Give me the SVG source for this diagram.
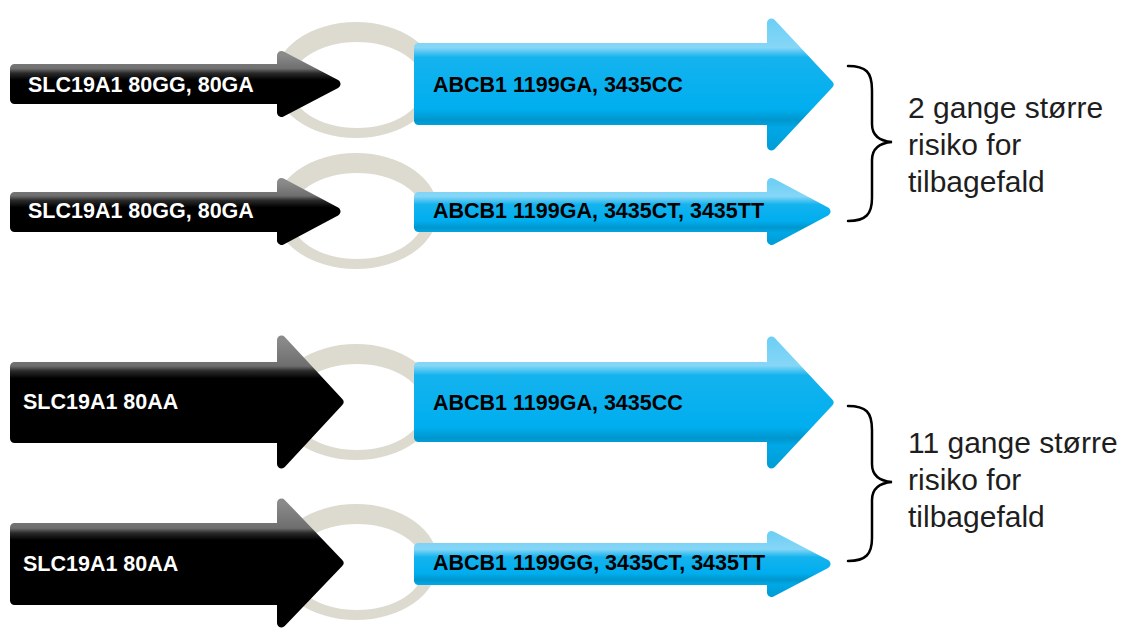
<svg xmlns="http://www.w3.org/2000/svg" width="1127" height="632" viewBox="0 0 1127 632">
  <defs>
    <linearGradient id="blackS" x1="0" y1="0" x2="0" y2="1">
      <stop offset="0" stop-color="#8a8a8a"/>
      <stop offset="0.23" stop-color="#6e6e6e"/>
      <stop offset="0.31" stop-color="#2a2a2a"/>
      <stop offset="0.43" stop-color="#000"/>
      <stop offset="1" stop-color="#000"/>
    </linearGradient>
    <linearGradient id="blackL" x1="0" y1="0" x2="0" y2="1">
      <stop offset="0" stop-color="#8a8a8a"/>
      <stop offset="0.21" stop-color="#6e6e6e"/>
      <stop offset="0.25" stop-color="#2a2a2a"/>
      <stop offset="0.31" stop-color="#000"/>
      <stop offset="1" stop-color="#000"/>
    </linearGradient>
    <linearGradient id="blueL" x1="0" y1="0" x2="0" y2="1">
      <stop offset="0" stop-color="#6fd0f5"/>
      <stop offset="0.2" stop-color="#86d6f6"/>
      <stop offset="0.28" stop-color="#14b3ee"/>
      <stop offset="0.7" stop-color="#00aeef"/>
      <stop offset="0.79" stop-color="#0096cd"/>
      <stop offset="0.85" stop-color="#00a8e6"/>
      <stop offset="1" stop-color="#009fd9"/>
    </linearGradient>
    <linearGradient id="blueS" x1="0" y1="0" x2="0" y2="1">
      <stop offset="0" stop-color="#6fd0f5"/>
      <stop offset="0.24" stop-color="#86d6f6"/>
      <stop offset="0.38" stop-color="#14b3ee"/>
      <stop offset="0.66" stop-color="#00aeef"/>
      <stop offset="0.78" stop-color="#0096cd"/>
      <stop offset="0.86" stop-color="#00a8e6"/>
      <stop offset="1" stop-color="#009fd9"/>
    </linearGradient>
  </defs>
  <style>
    .ring { fill: #dddbcf; fill-rule: evenodd; }
    .arrow { stroke-width: 9; stroke-linejoin: round; }
    .bs { fill: url(#blackS); stroke: url(#blackS); }
    .bl { fill: url(#blackL); stroke: url(#blackL); }
    .ls { fill: url(#blueS); stroke: url(#blueS); }
    .ll { fill: url(#blueL); stroke: url(#blueL); }
    .wt { font-family: "Liberation Sans", Arial, sans-serif; font-weight: bold; font-size: 21.5px; fill: #ffffff; }
    .kt { font-family: "Liberation Sans", Arial, sans-serif; font-weight: bold; font-size: 21.5px; fill: #000000; }
    .note { font-family: "Liberation Sans", Arial, sans-serif; font-size: 30px; fill: #1e1e1e; }
    .brace { fill: none; stroke: #000; stroke-width: 2.5; stroke-linecap: round; }
  </style>

  <g id="connectors">
    <path class="ring" d="M274,80 A82,58 0 1,0 438,80 A82,58 0 1,0 274,80 Z M290,85 A67,43 0 1,0 424,85 A67,43 0 1,0 290,85 Z"/>
    <path class="ring" d="M274,211 A82,58 0 1,0 438,211 A82,58 0 1,0 274,211 Z M290,216 A67,43 0 1,0 424,216 A67,43 0 1,0 290,216 Z"/>
    <path class="ring" d="M274,402 A82,58 0 1,0 438,402 A82,58 0 1,0 274,402 Z M290,407 A67,43 0 1,0 424,407 A67,43 0 1,0 290,407 Z"/>
    <path class="ring" d="M274,562 A82,58 0 1,0 438,562 A82,58 0 1,0 274,562 Z M290,567 A67,43 0 1,0 424,567 A67,43 0 1,0 290,567 Z"/>
    <path class="brace" d="M848,66 C866,66 872,72 872,90 L872,124 C872,136 880,141 892,142 C880,143 872,148 872,160 L872,198 C872,214 866,221 848,221"/>
    <path class="brace" d="M848,406 C866,406 872,412 872,430 L872,464 C872,476 880,481 892,482 C880,483 872,488 872,500 L872,538 C872,554 866,561 848,561"/>
  </g>

  <g id="slc1">
    <path class="arrow bs" d="M14.5,68.5 L281.5,68.5 L281.5,55.5 L336,84 L281.5,112.5 L281.5,99.5 L14.5,99.5 Z"/>
    <text class="wt" x="28" y="92">SLC19A1 80GG, 80GA</text>
  </g>
  <g id="slc2">
    <path class="arrow bs" d="M14.5,196.5 L281.5,196.5 L281.5,182.5 L336,211.5 L281.5,240.5 L281.5,227.5 L14.5,227.5 Z"/>
    <text class="wt" x="28" y="218">SLC19A1 80GG, 80GA</text>
  </g>
  <g id="slc3">
    <path class="arrow bl" d="M14.5,366.5 L281.5,366.5 L281.5,340 L339,402 L281.5,464 L281.5,438.5 L14.5,438.5 Z"/>
    <text class="wt" x="23" y="409">SLC19A1 80AA</text>
  </g>
  <g id="slc4">
    <path class="arrow bl" d="M14.5,527.5 L281.5,527.5 L281.5,503 L339,563 L281.5,623 L281.5,600.5 L14.5,600.5 Z"/>
    <text class="wt" x="23" y="571">SLC19A1 80AA</text>
  </g>

  <g id="abcb1">
    <path class="arrow ll" d="M418.5,47.5 L771.5,47.5 L771.5,23 L829,84.5 L771.5,146 L771.5,120.5 L418.5,120.5 Z"/>
    <text class="kt" x="433" y="92">ABCB1 1199GA, 3435CC</text>
  </g>
  <g id="abcb2">
    <path class="arrow ls" d="M418.5,196.5 L771.5,196.5 L771.5,182.5 L826,211.5 L771.5,240.5 L771.5,227.5 L418.5,227.5 Z"/>
    <text class="kt" x="433" y="218">ABCB1 1199GA, 3435CT, 3435TT</text>
  </g>
  <g id="abcb3">
    <path class="arrow ll" d="M418.5,366.5 L771.5,366.5 L771.5,341 L829,402.5 L771.5,464 L771.5,437.5 L418.5,437.5 Z"/>
    <text class="kt" x="433" y="410">ABCB1 1199GA, 3435CC</text>
  </g>
  <g id="abcb4">
    <path class="arrow ls" d="M418.5,547.5 L771.5,547.5 L771.5,535.5 L826,564 L771.5,592.5 L771.5,580.5 L418.5,580.5 Z"/>
    <text class="kt" x="433" y="570">ABCB1 1199GG, 3435CT, 3435TT</text>
  </g>

  <g id="note1">
    <text class="note" x="908" y="118">2 gange større</text>
    <text class="note" x="908" y="155">risiko for</text>
    <text class="note" x="908" y="192">tilbagefald</text>
  </g>
  <g id="note2">
    <text class="note" x="908" y="453">11 gange større</text>
    <text class="note" x="908" y="490">risiko for</text>
    <text class="note" x="908" y="527">tilbagefald</text>
  </g>
</svg>
